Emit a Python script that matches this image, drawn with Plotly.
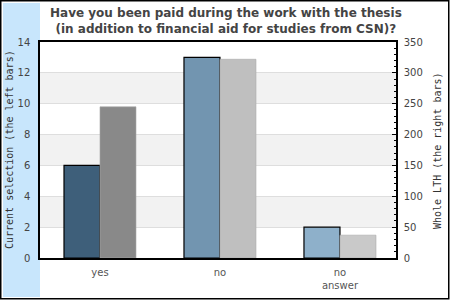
import plotly.graph_objects as go

categories = ["yes", "no", "no<br>answer"]
current_selection = [6, 13, 2]
whole_lth = [245, 322, 37]
left_colors = ["#3e5f7a", "#7295b0", "#8eb0ca"]
right_colors = ["#898989", "#bfbfbf", "#c9c9c9"]

x_idx = list(range(len(categories)))

fig = go.Figure()
fig.add_trace(go.Bar(
    x=x_idx, y=current_selection, yaxis="y", offset=-0.3, width=0.3,
    marker=dict(color=left_colors, line=dict(color="black", width=1.2)),
    showlegend=False, hoverinfo="skip"))
fig.add_trace(go.Bar(
    x=x_idx, y=whole_lth, yaxis="y2", offset=0.0, width=0.3,
    marker=dict(color=right_colors, line=dict(color="#a8a8a8", width=0.6)),
    showlegend=False, hoverinfo="skip"))

W, H = 450, 300
L, R, T, B = 40, 54, 42, 42
pw = W - L - R
ph = H - T - B

def px_x(x):
    return (x - L) / pw

def px_y(y):
    return 1 - (y - T) / ph

shapes = []
# light blue strip on the left
shapes.append(dict(type="rect", xref="paper", yref="paper", layer="below",
                   x0=px_x(3), x1=0, y0=px_y(297), y1=px_y(3),
                   fillcolor="#c8e6fc", line=dict(width=0)))
# alternating bands
for k in range(7):
    if k % 2 == 1:
        shapes.append(dict(type="rect", xref="paper", yref="y", layer="below",
                           x0=0, x1=1, y0=2 * k, y1=2 * k + 2,
                           fillcolor="#f2f2f2", line=dict(width=0)))
# outer black border
shapes.append(dict(type="rect", xref="paper", yref="paper",
                   x0=px_x(0.75), x1=px_x(W - 1.25),
                   y0=px_y(H - 1.25), y1=px_y(0.75),
                   line=dict(color="black", width=1.5), fillcolor="rgba(0,0,0,0)"))

annotations = [
    dict(text="<b>Have you been paid during the work with the thesis<br>(in addition to financial aid for studies from CSN)?</b>",
         xref="paper", yref="paper", x=px_x(226), y=px_y(21),
         xanchor="center", yanchor="middle", showarrow=False,
         font=dict(family="DejaVu Sans", size=12, color="#444")),
    dict(text="Current selection (the left bars)", textangle=-90,
         xref="paper", yref="paper", x=px_x(9), y=px_y(150),
         xanchor="center", yanchor="middle", showarrow=False,
         font=dict(family="DejaVu Sans Mono", size=10, color="#333")),
    dict(text="Whole LTH (the right bars)", textangle=-90,
         xref="paper", yref="paper", x=px_x(437), y=px_y(150),
         xanchor="center", yanchor="middle", showarrow=False,
         font=dict(family="DejaVu Sans Mono", size=10, color="#333")),
]

fig.update_layout(
    width=W, height=H,
    margin=dict(l=L, r=R, t=T, b=B, pad=0, autoexpand=False),
    paper_bgcolor="white", plot_bgcolor="rgba(0,0,0,0)",
    barmode="overlay",
    font=dict(family="DejaVu Sans", size=10, color="#444"),
    xaxis=dict(range=[-0.5, 2.467], tickvals=x_idx, ticktext=categories,
               showgrid=False, zeroline=False, ticks="", showline=True,
               linecolor="black", linewidth=1.5, mirror=True, automargin=False,
               ticklabelstandoff=4,
               tickfont=dict(size=10, color="#555")),
    yaxis=dict(range=[0, 14], dtick=2, showgrid=True, gridcolor="#dedede",
               gridwidth=1, zeroline=False, showline=True, linecolor="black",
               linewidth=1.5, ticks="", ticklabelstandoff=6, automargin=False,
               tickfont=dict(size=10, color="#444")),
    yaxis2=dict(range=[0, 350], dtick=50, overlaying="y", side="right",
                showgrid=False, zeroline=False, showline=True, linecolor="black",
                linewidth=1.5, ticks="inside", ticklen=4, tickcolor="black",
                minor=dict(dtick=10, ticks="inside", ticklen=2, tickcolor="black"),
                ticklabelstandoff=4, automargin=False,
                tickfont=dict(size=10, color="#444")),
    shapes=shapes,
    annotations=annotations,
)

fig.write_html("out.html")
